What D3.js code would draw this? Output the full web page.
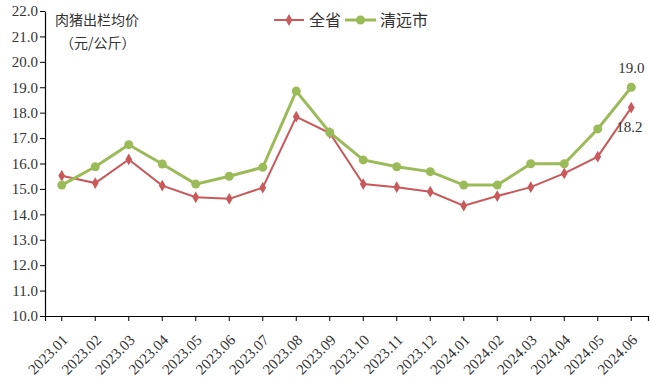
<!DOCTYPE html>
<html>
<head>
<meta charset="utf-8">
<script src="https://cdn.jsdelivr.net/npm/d3@7/dist/d3.min.js"></script>
<style>
  body { margin: 0; background: #fff; }
  svg { display: block; }
</style>
</head>
<body>
<div id="chart"></div>
<script>
var svgWidth = 650;
var svgHeight = 388;

var margin = { top: 11, right: 2, bottom: 72, left: 45 };
var width = svgWidth - margin.left - margin.right;
var height = svgHeight - margin.top - margin.bottom;

// data
var months = ["2023.01", "2023.02", "2023.03", "2023.04", "2023.05", "2023.06",
  "2023.07", "2023.08", "2023.09", "2023.10", "2023.11", "2023.12",
  "2024.01", "2024.02", "2024.03", "2024.04", "2024.05", "2024.06"];
var province = [15.52, 15.23, 16.16, 15.13, 14.67, 14.61, 15.05, 17.84, 17.2,
  15.19, 15.07, 14.89, 14.34, 14.72, 15.07, 15.61, 16.27, 18.2];
var qingyuan = [15.15, 15.87, 16.74, 15.98, 15.19, 15.5, 15.85, 18.85, 17.22,
  16.14, 15.87, 15.68, 15.15, 15.15, 15.99, 15.99, 17.36, 19.0];
var yTicks = [10, 11, 12, 13, 14, 15, 16, 17, 18, 19, 20, 21, 22];

var redColor = "#c9595a";
var greenColor = "#9bbb59";
var serif = "'Liberation Serif', 'DejaVu Serif', serif";
var cjk = "'Noto Sans CJK SC', sans-serif";

var svg = d3.select("#chart")
  .append("svg")
  .attr("width", svgWidth)
  .attr("height", svgHeight);

var chartGroup = svg.append("g")
  .attr("transform", `translate(${margin.left}, ${margin.top})`);

var xScale = d3.scaleBand()
  .domain(months)
  .range([0, width]);

var yScale = d3.scaleLinear()
  .domain([10, 22])
  .range([height, 0]);

var xPos = d => xScale(d) + xScale.bandwidth() / 2;

// y axis
var leftAxis = d3.axisLeft(yScale)
  .tickValues(yTicks)
  .tickFormat(d3.format(".1f"))
  .tickSize(5)
  .tickSizeOuter(0);

var yAxis = chartGroup.append("g").call(leftAxis);
yAxis.select(".domain").attr("stroke", "#000").attr("stroke-width", 1.2);
yAxis.selectAll(".tick line").attr("stroke", "#000");
yAxis.selectAll("text")
  .attr("font-family", serif)
  .attr("font-size", "15px")
  .attr("fill", "#333")
  .attr("x", -7);

// x axis
var bottomAxis = d3.axisBottom(xScale)
  .tickSize(5)
  .tickSizeOuter(5);

var xAxis = chartGroup.append("g")
  .attr("transform", `translate(0, ${height})`)
  .call(bottomAxis);
xAxis.select(".domain").attr("stroke", "#000").attr("stroke-width", 1.2);
xAxis.selectAll(".tick line").attr("stroke", "#000");
xAxis.selectAll("text")
  .attr("font-family", serif)
  .attr("font-size", "15px")
  .attr("fill", "#333")
  .attr("text-anchor", "end")
  .attr("y", 0)
  .attr("dy", 0)
  .attr("transform", "translate(7, 25) rotate(-45)");

// lines
var line = d3.line()
  .x((d, i) => xPos(months[i]))
  .y(d => yScale(d));

chartGroup.append("path")
  .datum(province)
  .attr("fill", "none")
  .attr("stroke", redColor)
  .attr("stroke-width", 2)
  .attr("d", line);

chartGroup.append("path")
  .datum(qingyuan)
  .attr("fill", "none")
  .attr("stroke", greenColor)
  .attr("stroke-width", 3)
  .attr("d", line);

var diamond = d3.symbol().type(d3.symbolDiamond).size(40);

chartGroup.selectAll(".redMark")
  .data(province)
  .enter()
  .append("path")
  .attr("transform", (d, i) => `translate(${xPos(months[i])}, ${yScale(d)})`)
  .attr("d", diamond)
  .attr("fill", redColor);

chartGroup.selectAll(".greenMark")
  .data(qingyuan)
  .enter()
  .append("circle")
  .attr("cx", (d, i) => xPos(months[i]))
  .attr("cy", d => yScale(d))
  .attr("r", 4.5)
  .attr("fill", greenColor);

// end labels
var last = months.length - 1;
chartGroup.append("text")
  .attr("x", xPos(months[last]))
  .attr("y", yScale(qingyuan[last]) - 14)
  .attr("text-anchor", "middle")
  .attr("font-family", serif)
  .attr("font-size", "15px")
  .attr("fill", "#333")
  .text(qingyuan[last].toFixed(1));

chartGroup.append("text")
  .attr("x", xPos(months[last]) - 2)
  .attr("y", yScale(province[last]) + 24)
  .attr("text-anchor", "middle")
  .attr("font-family", serif)
  .attr("font-size", "15px")
  .attr("fill", "#333")
  .text(province[last].toFixed(1));

// y title
svg.append("text")
  .attr("x", 55)
  .attr("y", 25)
  .attr("font-family", cjk)
  .attr("font-size", "14px")
  .attr("fill", "#333")
  .text("肉猪出栏均价");

svg.append("text")
  .attr("x", 60)
  .attr("y", 48)
  .attr("font-family", cjk)
  .attr("font-size", "14px")
  .attr("fill", "#333")
  .text("（元/公斤）");

// legend
var legend = svg.append("g").attr("transform", "translate(274, 20)");

legend.append("line")
  .attr("x1", 0).attr("x2", 30).attr("y1", 0).attr("y2", 0)
  .attr("stroke", redColor).attr("stroke-width", 2);
legend.append("path")
  .attr("transform", "translate(15, 0)")
  .attr("d", diamond)
  .attr("fill", redColor);
legend.append("text")
  .attr("x", 35).attr("y", 6)
  .attr("font-family", cjk).attr("font-size", "16px").attr("fill", "#333")
  .text("全省");

legend.append("line")
  .attr("x1", 71).attr("x2", 102).attr("y1", 0).attr("y2", 0)
  .attr("stroke", greenColor).attr("stroke-width", 3);
legend.append("circle")
  .attr("cx", 86.5).attr("cy", 0).attr("r", 4.5)
  .attr("fill", greenColor);
legend.append("text")
  .attr("x", 106).attr("y", 6)
  .attr("font-family", cjk).attr("font-size", "16px").attr("fill", "#333")
  .text("清远市");
</script>
</body>
</html>
